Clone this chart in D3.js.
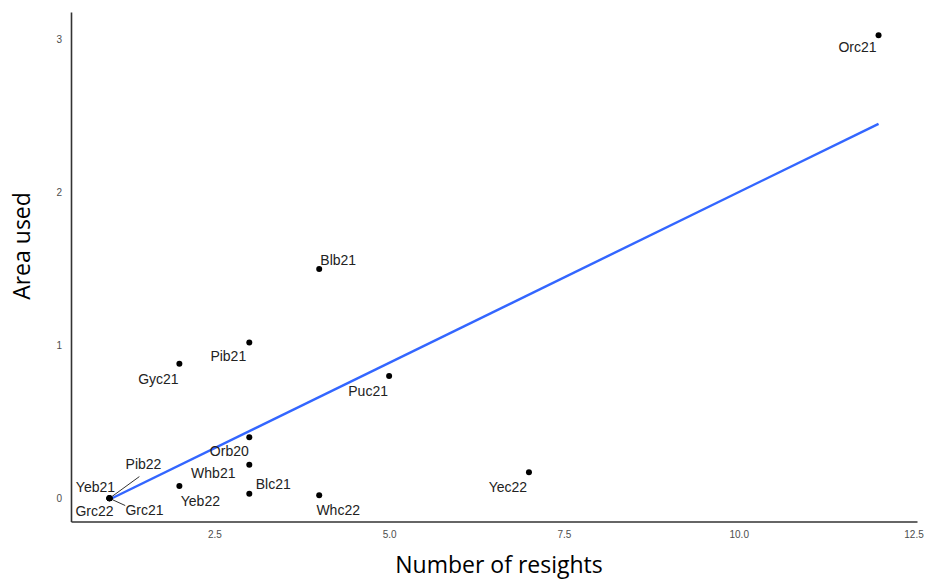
<!DOCTYPE html>
<html><head><meta charset="utf-8">
<script src="https://cdn.jsdelivr.net/npm/d3@7"></script>
<style>body{margin:0;background:#fff}svg{display:block}</style>
</head><body>
<svg id="chart" width="926" height="579"></svg>
<script>
const labels  = ["Orc21","Blb21","Pib21","Gyc21","Puc21","Orb20","Whb21","Blc21","Yeb22","Whc22","Yec22","Yeb21","Grc22","Pib22","Grc21"];
const resights = [12, 4, 3, 2, 5, 3, 3, 3, 2, 4, 7, 1, 1, 1, 1];
const areaUsed = [3.03, 1.50, 1.02, 0.88, 0.80, 0.40, 0.22, 0.03, 0.08, 0.02, 0.17, 0, 0, 0, 0];
const xTicks = [2.5, 5.0, 7.5, 10.0, 12.5];
const yTicks = [0, 1, 2, 3];
// label placement (repelled offsets, pixels) and whether a leader segment is drawn
const labelDx = [-21, 19, -21, -21, -21, -20, -36, 24, 21, 19, -21, -14, -15, 34, 35];
const labelDy = [12, -9, 14, 15, 15, 14, 8, -10, 15, 15, 15, -11, 13, -34, 12];
const labelSeg = [0,0,0,0,0,0,0,0,0,0,0,0,0,1,1];

const svg = d3.select("#chart");
const x = d3.scaleLinear().domain([0.45, 12.55]).range([71, 917]);
const y = d3.scaleLinear().domain([-0.1515, 3.1815]).range([521.5, 12]);

// axes
const xAxis = d3.axisBottom(x).tickValues(xTicks).tickFormat(d3.format(".1f")).tickSize(0).tickPadding(9);
const yAxis = d3.axisLeft(y).tickValues(yTicks).tickFormat(d3.format("d")).tickSize(0).tickPadding(9);
const gx = svg.append("g").attr("transform", `translate(0,${y.range()[0]})`).call(xAxis);
const gy = svg.append("g").attr("transform", `translate(${x.range()[0]},0)`).call(yAxis);
[gx, gy].forEach(g => {
  g.select(".domain").attr("stroke", "#333").attr("stroke-width", 1.6);
  g.selectAll("text").attr("fill", "#4d4d4d").attr("font-family", "Liberation Sans, Arial, sans-serif").attr("font-size", 10);
});

// regression line (least squares from data)
const n = resights.length;
const mx = d3.mean(resights), my = d3.mean(areaUsed);
let sxy = 0, sxx = 0;
for (let i = 0; i < n; i++) { sxy += (resights[i]-mx)*(areaUsed[i]-my); sxx += (resights[i]-mx)**2; }
const slope = sxy/sxx, icpt = my - slope*mx;
const [xmin, xmax] = d3.extent(resights);
svg.append("line")
  .attr("x1", x(xmin)).attr("y1", y(icpt + slope*xmin))
  .attr("x2", x(xmax)).attr("y2", y(icpt + slope*xmax))
  .attr("stroke", "#3366FF").attr("stroke-width", 2.4);

const data = labels.map((l, i) => ({l, x: resights[i], y: areaUsed[i], dx: labelDx[i], dy: labelDy[i], seg: labelSeg[i]}));

// leader segments
svg.append("g").selectAll("line").data(data.filter(d => d.seg)).join("line")
  .attr("x1", d => x(d.x)).attr("y1", d => y(d.y))
  .attr("x2", d => x(d.x) + d.dx*(d.dy < 0 ? 0.88 : 0.45)).attr("y2", d => y(d.y) + d.dy*(d.dy < 0 ? 0.64 : 0.6))
  .attr("stroke", "#333").attr("stroke-width", 1);

// points
svg.append("g").selectAll("circle").data(data).join("circle")
  .attr("cx", d => x(d.x)).attr("cy", d => y(d.y)).attr("r", 3).attr("fill", "#000");

// labels
svg.append("g").selectAll("text").data(data).join("text")
  .attr("x", d => x(d.x) + d.dx).attr("y", d => y(d.y) + d.dy)
  .attr("text-anchor", "middle").attr("dominant-baseline", "central")
  .attr("font-family", "Liberation Sans, Arial, sans-serif").attr("font-size", 14).attr("fill", "#222")
  .text(d => d.l);

// axis titles
svg.append("text").attr("x", 499).attr("y", 573).attr("text-anchor", "middle")
  .attr("font-family", "Open Sans, sans-serif").attr("font-size", 23).attr("fill", "#000")
  .text("Number of resights");
svg.append("text").attr("transform", "translate(30,246) rotate(-90)").attr("text-anchor", "middle")
  .attr("font-family", "Open Sans, sans-serif").attr("font-size", 23).attr("fill", "#000")
  .text("Area used");
</script>
</body></html>
